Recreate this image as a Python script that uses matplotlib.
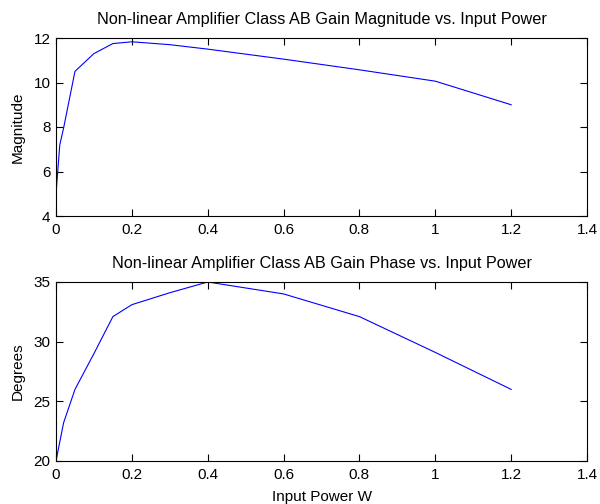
import numpy as np
import matplotlib.pyplot as plt

plt.rcParams['font.family'] = ['Liberation Sans', 'DejaVu Sans']

# datos
power = [0, 0.01, 0.02, 0.05, 0.1, 0.15, 0.2, 0.3, 0.4, 0.6, 0.8, 1.0, 1.2]
magnitude = [5.0, 7.2, 7.95, 10.5, 11.3, 11.75, 11.83, 11.7, 11.5, 11.05, 10.57, 10.06, 9.0]
phase_power = [0, 0.02, 0.05, 0.1, 0.15, 0.2, 0.3, 0.4, 0.6, 0.8, 1.0, 1.2]
phase = [20.0, 23.2, 26.0, 29.0, 32.1, 33.1, 34.1, 35.0, 34.0, 32.1, 29.1, 26.0]

fs = 11
fig = plt.figure(figsize=(6, 5.04), dpi=100)

def style(ax):
    ax.tick_params(direction='in', top=True, right=True, labelsize=fs, length=5, width=0.8)
    ax.tick_params(axis='x', pad=5)
    ax.tick_params(axis='y', pad=4)
    for s in ax.spines.values():
        s.set_linewidth(0.8)

# magnitud
ax1 = fig.add_axes([56/600, 1-216/504, 531/600, 178/504])
ax1.plot(power, magnitude, color='#0000ff', linewidth=0.8)
ax1.set_xlim(0, 1.4)
ax1.set_ylim(4, 12)
ax1.set_xticks([0, 0.2, 0.4, 0.6, 0.8, 1, 1.2, 1.4])
ax1.set_xticklabels(['0', '0.2', '0.4', '0.6', '0.8', '1', '1.2', '1.4'])
ax1.set_yticks([4, 6, 8, 10, 12])
ax1.set_title('Non-linear Amplifier Class AB Gain Magnitude vs. Input Power', fontsize=11.7, pad=10)
ax1.set_ylabel('Magnitude', fontsize=fs, labelpad=6)
style(ax1)

# fase
ax2 = fig.add_axes([56/600, 1-461/504, 531/600, 179/504])
ax2.plot(phase_power, phase, color='#0000ff', linewidth=0.8)
ax2.set_xlim(0, 1.4)
ax2.set_ylim(20, 35)
ax2.set_xticks([0, 0.2, 0.4, 0.6, 0.8, 1, 1.2, 1.4])
ax2.set_xticklabels(['0', '0.2', '0.4', '0.6', '0.8', '1', '1.2', '1.4'])
ax2.set_yticks([20, 25, 30, 35])
ax2.set_title('Non-linear Amplifier Class AB Gain Phase vs. Input Power', fontsize=11.7, pad=10)
ax2.set_ylabel('Degrees', fontsize=fs, labelpad=6)
ax2.set_xlabel('Input Power W', fontsize=fs, labelpad=6)
style(ax2)

fig.savefig('out.png', dpi=100)
